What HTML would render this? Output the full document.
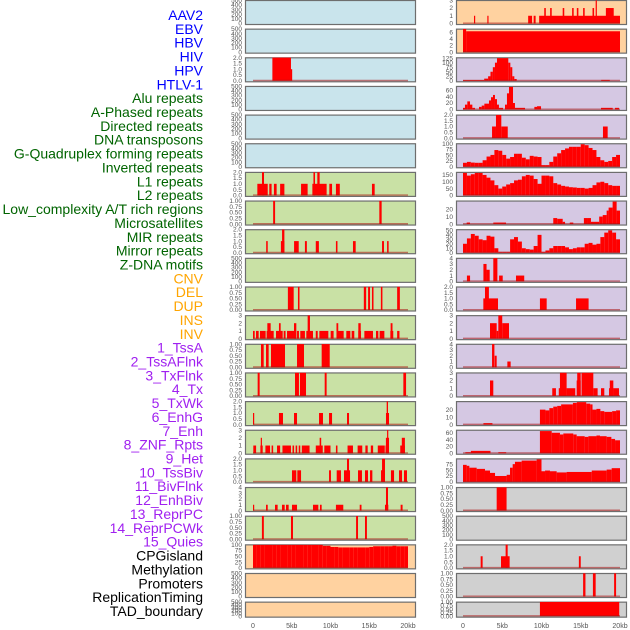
<!DOCTYPE html>
<html><head><meta charset="utf-8"><style>
html,body{margin:0;padding:0;background:#fff;width:630px;height:630px;overflow:hidden}
svg{display:block}
</style></head><body>
<svg id="chart" width="630" height="630" viewBox="0 0 630 630" xmlns="http://www.w3.org/2000/svg" font-family="Liberation Sans, sans-serif"></svg>
<script>
// ---- data ----
const labelsBlue = ["AAV2","EBV","HBV","HIV","HPV","HTLV-1"];
const labelsGreen = ["Alu repeats","A-Phased repeats","Directed repeats","DNA transposons","G-Quadruplex forming repeats","Inverted repeats","L1 repeats","L2 repeats","Low_complexity A/T rich regions","Microsatellites","MIR repeats","Mirror repeats","Z-DNA motifs"];
const labelsOrange = ["CNV","DEL","DUP","INS","INV"];
const labelsPurple = ["1_TssA","2_TssAFlnk","3_TxFlnk","4_Tx","5_TxWk","6_EnhG","7_Enh","8_ZNF_Rpts","9_Het","10_TssBiv","11_BivFlnk","12_EnhBiv","13_ReprPC","14_ReprPCWk","15_Quies"];
const labelsBlack = ["CPGisland","Methylation","Promoters","ReplicationTiming","TAD_boundary"];
const xTickValues = [0,5,10,15,20];
const xTickLabels = ["0","5kb","10kb","15kb","20kb"];

const ticksEmpty = ["0","100","200","300","400","500"];
const ticks1 = ["0.00","0.25","0.50","0.75","1.00"];
const ticks2 = ["0.0","0.5","1.0","1.5","2.0"];
const ticks3 = ["0","1","2","3"];
const ticks4 = ["0","1","2","3","4"];

// left column segments [startKb, endKb, value]
const L_HIV = [[2.5,4.9,2],[4.9,5.0,1]];
const L_L1 = [[0.56,1.9,1],[1.16,1.42,2],[2.1,2.4,1],[2.7,3.05,1],[3.5,4.05,1],[6.2,7.05,1],[7.66,9.5,1],[7.8,8.0,2],[8.3,8.6,2],[9.85,10.2,1],[10.7,11.2,1],[15.35,15.7,1]];
const L_L2 = [[2.6,2.85,1],[16.3,16.6,1]];
const L_LowAT = [[1.7,1.9,1],[3.6,4.05,1],[3.75,4.05,2],[5.3,5.9,1],[6.7,6.95,1],[8.1,8.5,1],[10.7,10.9,1],[12.9,13.25,1],[16.65,16.9,1],[17.3,17.5,1]];
const L_MIR = [[4.5,5.25,1],[5.8,6.0,1],[14.3,14.6,1],[14.85,15.1,1],[15.35,15.55,1],[16.5,16.7,1],[18.6,18.95,1]];
const L_Mirror = [[0,0.22,1],[0.39,0.73,1],[0.9,1.63,1],[1.76,2.67,1],[1.85,2.28,2],[2.97,3.83,1],[3.35,3.57,2],[3.96,4.2,1],[4.39,5.59,1],[5.29,5.59,2],[5.68,5.93,1],[6.1,6.7,1],[6.88,7.74,1],[7.05,7.35,3],[8.1,8.35,1],[8.56,9.72,1],[10.02,10.4,1],[10.84,11.7,1],[10.77,11.0,2],[12.04,12.56,1],[12.73,13.07,1],[13.59,13.94,1],[13.59,13.9,2],[14.37,15.48,1],[15.87,16.17,1],[16.34,16.95,1],[17.72,18.1,1],[17.76,18.0,2],[18.6,18.9,1]];
const L_DEL = [[1.03,1.38,1],[1.68,2.02,1],[2.32,4.13,1],[5.68,6.58,1],[8.86,9.9,1]];
const L_DUP = [[0.6,0.86,1],[5.42,5.93,1],[6.06,6.84,1],[9.25,9.5,1],[19.4,19.75,1]];
const L_INS = [[0,0.1,1],[3.35,3.87,1],[5.29,5.68,1],[8.52,9.03,1],[9.81,10.2,1],[12.13,12.39,1],[17.16,17.55,1],[17.25,17.42,2]];
const L_INV = [[0.04,0.4,1],[0.95,1.25,1],[1.0,1.15,2],[1.6,2.2,1],[2.4,2.6,1],[3.1,3.5,1],[3.8,4.9,1],[5.1,5.3,1],[5.5,5.7,1],[5.9,6.1,1],[6.3,7.3,1],[8.1,9.0,1],[8.6,8.8,2],[9.2,10.0,1],[10.7,10.9,1],[12.2,12.9,1],[13.5,14.1,1],[14.5,14.8,1],[15.2,15.5,1],[16.1,17.0,1],[17.1,17.55,1],[17.15,17.55,2],[17.3,17.45,3],[19.0,19.6,1],[19.2,19.6,2]];
const L_TssA = [[5.03,5.59,1],[5.72,6.2,1],[9.81,10.06,1],[10.8,11.35,1],[11.74,12.52,1],[12.13,12.39,2],[13.55,14.06,1],[14.45,14.84,1],[15.1,15.4,1],[16.52,17.03,1],[16.65,17.03,2],[17.8,18.2,1],[18.84,19.23,1],[19.48,19.87,1]];
const L_TssAFlnk = [[0,0.13,1],[1.68,1.9,1],[2.84,3.18,1],[3.74,4.09,1],[4.26,4.6,1],[5.03,5.68,1],[7.74,8.43,1],[8.64,8.86,1],[10.7,11.65,1],[13.77,14.0,1],[17.03,17.46,1],[17.16,17.42,4],[19.05,19.3,1]];
const L_TxFlnk = [[1.15,1.4,1],[4.9,5.16,1],[13.3,13.55,1],[14.45,14.7,1]];
const L_CPG_bins = [99,99,99,99,99,99,99,99,99,99,99,99,99,99,99,99,99,99,95,95,90,90,88,88,88,88,88,88,88,88,90,93,93,93,93,93,95,93,93,93];

// right column
const R_AAV2 = [[1.4,1.55,1],[3.1,3.25,1],[8.3,8.8,1],[9.0,9.25,1],[9.7,20,1],[10.35,10.55,2],[11.1,11.3,2],[12.7,12.9,2],[13.9,14.1,2],[14.5,14.7,2],[15.3,15.5,2],[16.5,16.7,2],[16.9,17.05,3],[18.2,19.2,2]];
const R_EBV = [[0,0.4,7],[0.4,20,6.3]];
const R_HIV = [[0,2.7,4],[2.7,3.2,12],[3.2,3.5,25],[3.5,3.8,50],[3.8,4.07,75],[4.07,4.33,100],[4.33,5.77,125],[5.77,6.03,100],[6.03,6.28,75],[6.28,6.54,25],[6.54,6.84,10],[17.6,18.7,5]];
const R_HPV = [[0,0.25,5],[0.25,0.55,15],[0.55,0.89,25],[0.89,1.19,15],[1.19,1.53,5],[2.04,2.38,8],[2.38,2.72,12],[2.72,3.31,18],[3.31,3.57,28],[3.57,3.82,38],[3.82,4.07,45],[4.07,4.33,32],[4.33,4.58,15],[4.58,5.1,5],[5.35,5.6,15],[5.6,5.86,50],[5.86,6.37,70],[6.37,6.62,20],[6.62,7.9,5],[9.09,9.43,8],[9.43,9.94,10],[17.58,19.07,5],[19.36,19.87,5]];
const R_Alu = [[3.7,4.2,1],[4.2,4.88,2],[4.88,5.7,1],[17.83,18.43,1]];
const R_Aphased_bins = [17,21,18,17,17,28,44,51,72,69,51,35,42,56,56,39,32,47,44,42,7,7,21,44,58,72,79,86,86,86,97,93,81,72,42,28,21,25,42,51];
const R_Directed_bins = [165,145,155,165,165,150,130,110,75,50,65,80,90,110,115,140,150,145,120,85,145,145,140,90,80,70,65,60,58,55,55,50,55,75,95,100,90,75,70,70];
const R_DNA = [[0.47,0.89,2],[3.86,5.48,2],[11.5,12.0,8],[12.0,12.7,7],[12.7,13.0,3],[13.6,14.05,2],[15.4,15.8,8],[15.8,16.3,8],[16.3,17.35,3],[17.35,17.8,10],[17.8,18.3,12],[18.3,18.55,18],[18.55,19.06,22],[19.06,19.57,30],[19.57,20,18]];
const R_GQuad_bins = [20,32,42,38,30,28,38,36,10,2,2,2,30,35,25,10,8,7,15,40,2,5,10,15,15,15,12,8,10,12,12,20,22,18,20,35,45,50,45,30];
const R_Inverted = [[0.5,0.9,1],[2.6,3.0,3],[3.0,3.4,2],[3.86,4.38,4],[4.6,5.06,1],[6.75,7.8,1]];
const R_L1 = [[2.59,4.46,1],[2.8,3.3,2],[9.8,10.66,1],[14.4,16.0,1]];
const R_L2 = [[3.44,4.29,2],[4.29,4.5,1],[4.5,5.0,3],[5.0,5.86,2]];
const R_LowAT = [[3.7,4.0,4],[4.04,4.29,2],[5.65,6.07,1]];
const R_Micro = [[3.44,3.86,2],[11.37,11.84,1],[12.2,13.2,1],[12.35,13.2,3],[13.2,14.3,1],[14.48,14.99,2],[14.55,14.99,3],[15.1,16.6,3],[16.6,17.15,1],[17.58,18.0,1],[18.6,19.15,1],[18.7,19.15,2],[19.15,19.87,1]];
const R_MIR = [[2.6,3.75,2],[9.8,10.5,20],[10.5,11.0,19],[11.0,11.5,22],[11.5,12.0,24],[12.0,12.5,25],[12.5,14.0,27],[14.0,14.5,29],[14.5,15.7,30],[15.7,16.2,28],[16.2,16.5,27],[16.5,17.0,20],[17.0,17.5,21],[17.5,18.0,18],[18.0,19.0,17],[19.0,19.5,18],[19.5,20,19]];
const R_Mirror = [[0.3,1.0,3],[1.0,3.5,7],[4.5,5.5,3],[9.8,11.3,65],[11.3,12.35,60],[12.35,12.78,55],[12.78,14.05,58],[14.05,14.48,55],[14.48,15.5,50],[15.5,15.97,48],[15.97,17.0,50],[17.0,17.45,52],[17.45,18.3,50],[18.3,18.9,48],[18.9,19.37,42],[19.37,20,38]];
const R_ZDNA = [[0,0.47,72],[0.47,0.81,68],[0.81,1.74,60],[1.74,2.8,55],[2.8,3.44,48],[3.44,4.08,38],[4.08,5.56,25],[5.56,5.99,30],[5.99,6.33,60],[6.33,6.62,75],[6.62,7.47,85],[7.47,9.38,90],[9.38,10.0,95],[10.0,10.45,45],[10.45,11.08,48],[11.08,11.93,45],[11.93,13.2,40],[13.2,16.4,42],[16.4,18.3,48],[18.3,18.94,52],[18.94,20,58]];
const R_CNV = [[4.29,5.55,1]];
const R_INS = [[2.25,2.5,1],[4.84,5.94,1],[5.43,5.69,2],[14.76,15.0,1]];
const R_INV = [[15.3,15.6,1],[16.55,16.9,1],[19.25,19.5,1]];
const R_TssA = [[9.8,19.9,1]];

// ---- panel config: [row, col, bg, ticks, tickMax, yMax, segs, bins] ----
const BLUE="#c9e4ec", GREEN="#c9e1a5", PEACH="#ffd2a0", LAV="#d5c8e3", GRAY="#d0d0d0";
const panels = [
 [0,0,BLUE,ticksEmpty,500,500,null,null],[0,1,PEACH,ticks3,3,3,R_AAV2,null],
 [1,0,BLUE,ticksEmpty,500,500,null,null],[1,1,PEACH,["0","2","4","6"],6,7,R_EBV,null],
 [2,0,BLUE,ticks2,2,2,L_HIV,null],[2,1,LAV,["0","25","50","75","100","125"],125,128,R_HIV,null],
 [3,0,BLUE,ticksEmpty,500,500,null,null],[3,1,LAV,["0","20","40","60"],60,72,R_HPV,null],
 [4,0,BLUE,ticksEmpty,500,500,null,null],[4,1,LAV,ticks2,2,2,R_Alu,null],
 [5,0,BLUE,ticksEmpty,500,500,null,null],[5,1,LAV,["0","25","50","75","100"],100,100,null,R_Aphased_bins],
 [6,0,GREEN,ticks2,2,2,L_L1,null],[6,1,LAV,["0","50","100","150"],150,170,null,R_Directed_bins],
 [7,0,GREEN,ticks1,1,1,L_L2,null],[7,1,LAV,["0","10","20"],20,31,R_DNA,null],
 [8,0,GREEN,ticks2,2,2,L_LowAT,null],[8,1,LAV,["0","10","20","30","40","50"],50,52,null,R_GQuad_bins],
 [9,0,GREEN,ticksEmpty,500,500,null,null],[9,1,LAV,ticks4,4,4,R_Inverted,null],
 [10,0,GREEN,ticks1,1,1,L_MIR,null],[10,1,LAV,ticks2,2,2,R_L1,null],
 [11,0,GREEN,ticks3,3,3,L_Mirror,null],[11,1,LAV,ticks3,3,3,R_L2,null],
 [12,0,GREEN,ticks1,1,1,L_DEL,null],[12,1,LAV,ticks4,4,4,R_LowAT,null],
 [13,0,GREEN,ticks1,1,1,L_DUP,null],[13,1,LAV,ticks3,3,3,R_Micro,null],
 [14,0,GREEN,ticks2,2,2,L_INS,null],[14,1,LAV,["0","10","20"],20,31,R_MIR,null],
 [15,0,GREEN,ticks3,3,3,L_INV,null],[15,1,LAV,["0","20","40","60"],60,68,R_Mirror,null],
 [16,0,GREEN,ticks2,2,2,L_TssA,null],[16,1,LAV,["0","25","50","75"],75,98,R_ZDNA,null],
 [17,0,GREEN,ticks4,4,4,L_TssAFlnk,null],[17,1,GRAY,ticks1,1,1,R_CNV,null],
 [18,0,GREEN,ticks1,1,1,L_TxFlnk,null],[18,1,GRAY,ticksEmpty,500,500,null,null],
 [19,0,PEACH,["0","25","50","75","100"],100,100,null,L_CPG_bins],[19,1,GRAY,ticks2,2,2,R_INS,null],
 [20,0,PEACH,ticksEmpty,500,500,null,null],[20,1,GRAY,ticks1,1,1,R_INV,null],
 [21,0,PEACH,ticksEmpty,500,500,null,null],[21,1,GRAY,ticks1,1,1,R_TssA,null]
];

// ---- drawing ----
const NS="http://www.w3.org/2000/svg";
const svg=document.getElementById('chart');
function mk(tag,attrs,parent){const e=document.createElementNS(NS,tag);for(const k in attrs)e.setAttribute(k,attrs[k]);(parent||svg).appendChild(e);return e;}
const colX=[245,456], colW=171, kb0=[253,463], kbScale=[7.75,7.85];
function rowTop(r){return r*28.65;}
function rowH(r){return r===21?16:25;}
function xScale(col,kb){return kb0[col]+kb*kbScale[col];}
function yScale(r,v,ymax){const t=rowTop(r),h=rowH(r);const zero=t+h-1.5,top=t+0.3;return zero-(v/ymax)*(zero-top);}

// labels
const allLabels=[].concat(labelsBlue.map(s=>[s,"#0000ff"]),labelsGreen.map(s=>[s,"#006400"]),labelsOrange.map(s=>[s,"#ffa500"]),labelsPurple.map(s=>[s,"#a020f0"]),labelsBlack.map(s=>[s,"#000"]));
allLabels.forEach((l,i)=>{
  const t=mk('text',{x:203,y:15+i*13.86+5,'text-anchor':'end','font-size':'14',fill:l[1]});
  t.textContent=l[0];
  
  
});

panels.forEach((p,pi)=>{
  const [r,col,bg,ticks,tmax,ymax,segs,bins]=p;
  const g=mk('g',{});
  
  
  const t=rowTop(r),h=rowH(r);
  const rect=mk('rect',{x:colX[col]+0.5,y:t+0.5,width:colW-1,height:h-1,fill:bg,stroke:'#6e6e6e','stroke-width':1.2},g);
  
  
  // ticks
  ticks.forEach((lab,i)=>{
    const v=tmax*i/(ticks.length-1);
    const tt=mk('text',{x:colX[col]-3,y:yScale(r,v,ymax)+2.2,'text-anchor':'end','font-size':'6.5',fill:'#555'},g);
    tt.textContent=lab;
    
    
  });
  const y0=yScale(r,0,ymax);
  if(segs||bins){
    const items=segs?segs:bins.map((v,i)=>[i*0.5,i*0.5+0.5,v]);
    items.forEach(s=>{
      if(s[2]<=0)return;
      const x1=xScale(col,s[0]),x2=xScale(col,s[1]);const y=yScale(r,s[2],ymax);
      const b=mk('rect',{x:x1,y:y,width:Math.max(1.2,x2-x1),height:y0-y,fill:'#ff0000'},g);
      
      
    });
    const bl=mk('line',{x1:xScale(col,0),x2:xScale(col,20),y1:y0-0.3,y2:y0-0.3,stroke:'rgba(170,20,20,0.55)','stroke-width':1.4},g);
    
    
  }
});

// x-axes
[0,1].forEach(col=>{
  xTickValues.forEach((v,i)=>{
    const t=mk('text',{x:xScale(col,v),y:628,'text-anchor':'middle','font-size':'7',fill:'#555'});
    t.textContent=xTickLabels[i];
    
    
  });
});
</script>
</body></html>
